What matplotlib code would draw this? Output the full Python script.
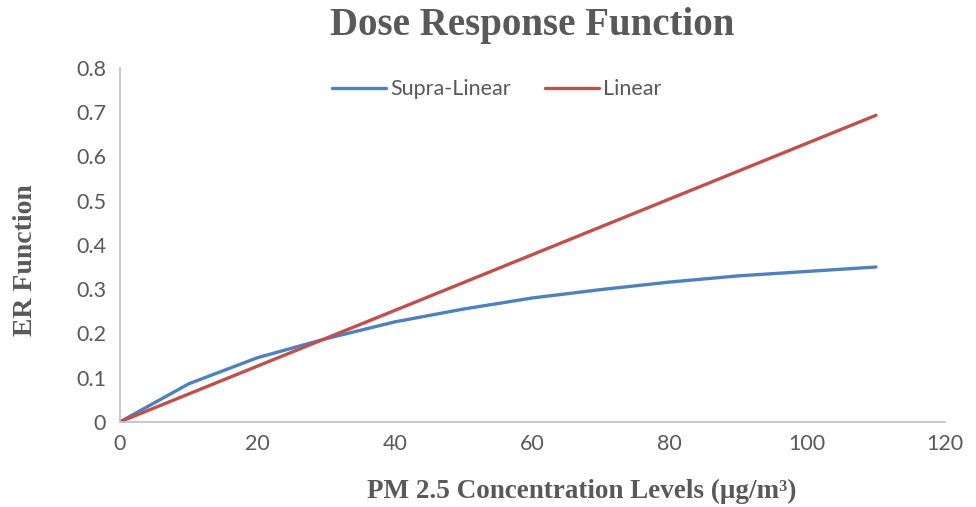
import matplotlib.pyplot as plt

# PM 2.5 levels and response values
pm_levels = [0, 10, 20, 30, 40, 50, 60, 70, 80, 90, 100, 110]
supra_linear = [0, 0.086, 0.145, 0.188, 0.226, 0.255, 0.280, 0.299, 0.316, 0.330, 0.340, 0.350]
linear = [0, 0.063, 0.126, 0.189, 0.252, 0.315, 0.378, 0.441, 0.504, 0.567, 0.630, 0.693]

x_ticks = [0, 20, 40, 60, 80, 100, 120]
y_ticks = [0, 0.1, 0.2, 0.3, 0.4, 0.5, 0.6, 0.7, 0.8]
y_tick_labels = ['0', '0.1', '0.2', '0.3', '0.4', '0.5', '0.6', '0.7', '0.8']

blue = '#4F81BD'
red = '#C0504D'
grey_text = '#595959'
serif = 'Liberation Serif'
sans = 'Lato'

fig = plt.figure(figsize=(9.76, 5.07), dpi=100)
ax = fig.add_axes([0.123, 0.168, 0.845, 0.698])

ax.plot(pm_levels, supra_linear, color=blue, lw=2.4, label='Supra-Linear', solid_capstyle='round')
ax.plot(pm_levels, linear, color=red, lw=2.4, label='Linear', solid_capstyle='round')

ax.set_xlim(0, 120)
ax.set_ylim(0, 0.8)
ax.set_xticks(x_ticks)
ax.set_yticks(y_ticks)
ax.set_yticklabels(y_tick_labels)
ax.tick_params(length=0, labelsize=15.5, labelcolor=grey_text)
ax.tick_params(axis='y', pad=10)
ax.tick_params(axis='x', pad=9)
for lbl in ax.get_xticklabels() + ax.get_yticklabels():
    lbl.set_fontfamily(sans)

for side in ['top', 'right']:
    ax.spines[side].set_visible(False)
for side in ['left', 'bottom']:
    ax.spines[side].set_color('#BFBFBF')
    ax.spines[side].set_linewidth(1.2)

fig.text(0.545, 0.95, 'Dose Response Function', ha='center', va='center',
         fontsize=28, fontweight='bold', family=serif, color=grey_text)
fig.text(0.596, 0.03, 'PM 2.5 Concentration Levels (\u03bcg/m\u00b3)', ha='center', va='center',
         fontsize=19.5, fontweight='bold', family=serif, color=grey_text)
fig.text(0.026, 0.487, 'ER Function', ha='center', va='center', rotation=90,
         fontsize=20, fontweight='bold', family=serif, color=grey_text)

leg = ax.legend(loc='center', bbox_to_anchor=(0.457, 0.94), ncol=2, frameon=False,
                handlelength=2.5, handletextpad=0.2, columnspacing=1.6,
                prop={'family': sans, 'size': 15.5})
for t in leg.get_texts():
    t.set_color(grey_text)

fig.savefig('out.png', dpi=100)
